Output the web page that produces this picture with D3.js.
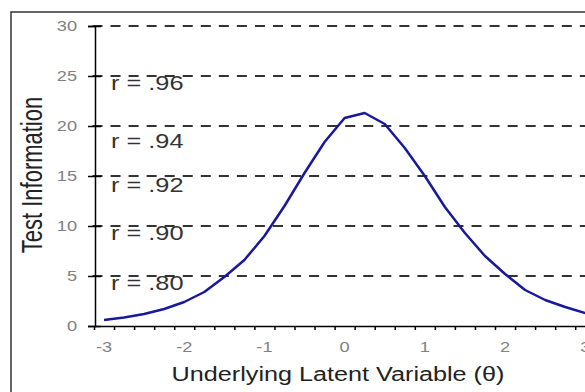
<!DOCTYPE html>
<html>
<head>
<meta charset="utf-8">
<script src="https://cdn.jsdelivr.net/npm/d3@7"></script>
<style>
  body { margin: 0; background: #fff; }
  svg { display: block; font-family: "Liberation Sans", Arial, sans-serif; }
</style>
</head>
<body>
<svg id="chart" width="585" height="392"></svg>
<script>
// theta categories (x axis), one point per category
var thetas = [-3, -2.75, -2.5, -2.25, -2, -1.75, -1.5, -1.25, -1, -0.75, -0.5, -0.25,
              0, 0.25, 0.5, 0.75, 1, 1.25, 1.5, 1.75, 2, 2.25, 2.5, 2.75, 3];
// test information
var testInfo = [0.6, 0.85, 1.2, 1.7, 2.4, 3.4, 4.9, 6.6, 9.0, 12.0, 15.3, 18.4,
                20.8, 21.3, 20.2, 17.8, 15.0, 11.9, 9.3, 7.0, 5.2, 3.6, 2.6, 1.9, 1.3];
var yTicks = [0, 5, 10, 15, 20, 25, 30];
var gridLevels = [5, 10, 15, 20, 25, 30];
var xLabels = [-3, -2, -1, 0, 1, 2, 3];
// reliability annotations and the information level they sit at
var rLabels = ["r = .96", "r = .94", "r = .92", "r = .90", "r = .80"];
var rLevels = [23.6, 17.8, 13.4, 8.6, 3.6];

var svg = d3.select("#chart");
var stretch = 1.3; // text in the picture is widened

// category axis: ticks between categories, points in the middle
var step = 20.05;
var x = d3.scaleLinear()
    .domain([-3.125, 3.125])
    .range([94, 94 + 25 * step]);
var y = d3.scaleLinear()
    .domain([0, 30])
    .range([326, 26]);

// outer frame
svg.append("rect")
    .attr("x", 11).attr("y", 12)
    .attr("width", 620).attr("height", 420)
    .attr("fill", "none")
    .attr("stroke", "#333")
    .attr("stroke-width", 1.5);

// dashed reference lines
svg.append("g").selectAll("line")
    .data(gridLevels)
    .enter().append("line")
    .attr("x1", 92.5).attr("x2", 600)
    .attr("y1", function(d) { return y(d); })
    .attr("y2", function(d) { return y(d); })
    .attr("stroke", "#333")
    .attr("stroke-width", 2)
    .attr("stroke-dasharray", "10,8.05");

// y axis
var yAxis = d3.axisLeft(y).tickValues(yTicks).tickSize(7).tickFormat("");
var yg = svg.append("g").attr("transform", "translate(95,0)").call(yAxis);
yg.select(".domain").attr("stroke", "#000").attr("stroke-width", 1.5);
yg.selectAll(".tick line").attr("x2", -7).attr("x1", 6).attr("stroke", "#000").attr("stroke-width", 1.5);

svg.append("g").selectAll("text")
    .data(yTicks)
    .enter().append("text")
    .attr("transform", function(d) { return "translate(77," + (y(d) + 5) + ") scale(" + stretch + ",1)"; })
    .attr("text-anchor", "end")
    .attr("font-size", 14)
    .attr("fill", "#808080")
    .text(function(d) { return d; });

// x axis: minor ticks at category boundaries
var bounds = d3.range(0, 27).map(function(i) { return -3.125 + i * 0.25; });
var xAxis = d3.axisBottom(x).tickValues(bounds).tickSize(4).tickSizeOuter(0).tickFormat("");
var xg = svg.append("g").attr("transform", "translate(0,326)").call(xAxis);
xg.select(".domain").attr("stroke", "#000").attr("stroke-width", 1.5);
xg.selectAll(".tick line").attr("stroke", "#000").attr("stroke-width", 1.5);

svg.append("g").selectAll("text")
    .data(xLabels)
    .enter().append("text")
    .attr("transform", function(d) { return "translate(" + x(d) + ",352) scale(" + stretch + ",1)"; })
    .attr("text-anchor", "middle")
    .attr("font-size", 14)
    .attr("fill", "#808080")
    .text(function(d) { return d; });

// r annotations
svg.append("g").selectAll("text")
    .data(rLabels)
    .enter().append("text")
    .attr("transform", function(d, i) { return "translate(111," + y(rLevels[i]) + ") scale(" + stretch + ",1)"; })
    .attr("font-size", 19.5)
    .attr("fill", "#333")
    .text(function(d) { return d; });

// information curve
var line = d3.line()
    .x(function(d, i) { return x(thetas[i]); })
    .y(function(d) { return y(d); });
svg.append("path")
    .datum(testInfo)
    .attr("d", line)
    .attr("fill", "none")
    .attr("stroke", "#18189a")
    .attr("stroke-width", 2.5)
    .attr("stroke-linejoin", "round");

// axis titles
svg.append("text")
    .attr("transform", "translate(338,381) scale(1.2,1)")
    .attr("text-anchor", "middle")
    .attr("font-size", 21)
    .attr("fill", "#222")
    .text("Underlying Latent Variable (θ)");

svg.append("text")
    .attr("transform", "translate(42,175) rotate(-90) scale(1," + stretch + ")")
    .attr("text-anchor", "middle")
    .attr("font-size", 22)
    .attr("fill", "#222")
    .text("Test Information");
</script>
</body>
</html>
